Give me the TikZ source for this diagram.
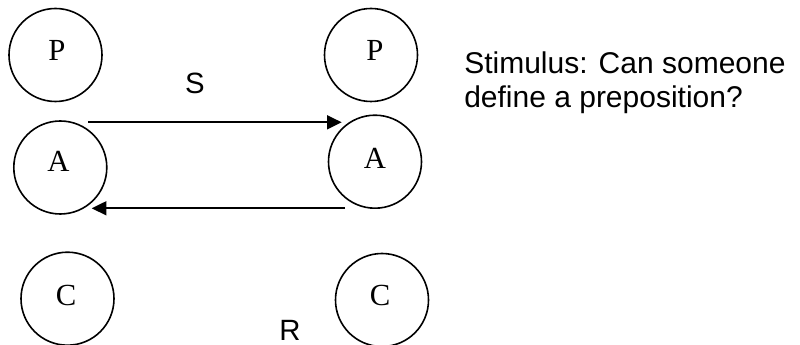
\documentclass[tikz,border=0pt]{standalone}
\usepackage{fontspec}
\setmainfont{Liberation Serif}
\newfontfamily\labelfont{Liberation Sans}
\usetikzlibrary{arrows.meta}
\begin{document}
\begin{tikzpicture}[x=0.75pt,y=-0.75pt,
  agent/.style={draw, circle, line width=1.2pt, minimum size=69.75pt, inner sep=0pt},
  letter/.style={inner sep=0pt, font=\fontsize{23}{27}\selectfont},
  tag/.style={inner sep=0pt, font=\labelfont\fontsize{22}{26}\selectfont},
  flow/.style={line width=1.2pt, -{Triangle[length=11pt, width=10.5pt]}}]
\useasboundingbox (0,0) rectangle (800,345);

% left column: P, A, C
\node[agent] (pL) at (55.5,55) {};
\node[agent] (aL) at (60.3,167.5) {};
\node[agent] (cL) at (67.5,298.7) {};
% right column: P, A, C
\node[agent] (pR) at (371,55) {};
\node[agent] (aR) at (375,161.7) {};
\node[agent] (cR) at (382,300) {};

% letters, set a little above the circle centres
\node[letter] (tpL) at (57,50) {P};
\node[letter] (taL) at (58.5,161.7) {A};
\node[letter] (tcL) at (66,295) {C};
\node[letter] (tpR) at (375,50) {P};
\node[letter] (taR) at (375,158) {A};
\node[letter] (tcR) at (380,295) {C};

% stimulus and response arrows between the A circles
\coordinate (sFrom) at (88,122.3);
\coordinate (sTo) at (341.7,122.3);
\coordinate (rFrom) at (345,208.3);
\coordinate (rTo) at (91.7,208.3);
\draw[flow] (sFrom) -- (sTo);
\draw[flow] (rFrom) -- (rTo);

\node[tag] (sLab) at (195,83.3) {S};
\node[tag] (rLab) at (290,330.5) {R};

% caption on the right (base anchor sits on the last line)
\node[anchor=base west, inner sep=0pt, align=left,
      font=\labelfont\fontsize{22.5}{26}\selectfont] (stim) at (464,108)
  {Stimulus: Can someone\\define a preposition?};
\end{tikzpicture}
\end{document}
